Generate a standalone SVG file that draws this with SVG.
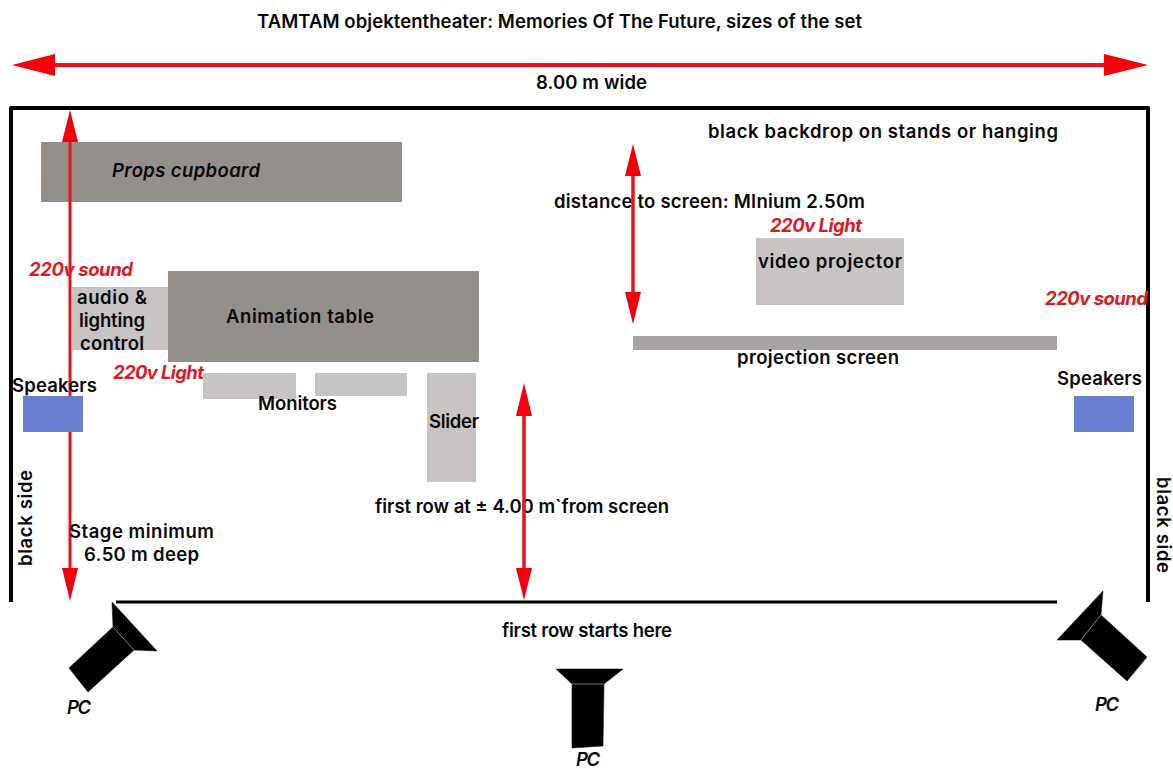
<svg xmlns="http://www.w3.org/2000/svg" width="1173" height="769" viewBox="0 0 1173 769">
<style>
text{font-family:"Inter","Liberation Sans",sans-serif;font-size:18.5px;font-weight:600;fill:#0a0a0a}
.m{text-anchor:middle}
.r{fill:#dc1a24;font-style:italic;font-weight:700}
.i{font-style:italic}
.dark{fill:#958f8b}
.light{fill:#c8c4c3}
.blue{fill:#6b7fd2}
.wall{fill:none;stroke:#000;stroke-width:4;stroke-linejoin:round}
.redline{fill:none;stroke:#e8121c}
.head{fill:#f5000a}
.cam{fill:#000;stroke:#000;stroke-width:.5}
.seam{stroke:#aaa;stroke-width:.7}
</style>
<rect width="1173" height="769" fill="#fff"/>
<g id="walls">
<path class="wall" d="M11 602V108H1148V602"/>
<path class="wall" style="stroke-width:3" d="M116 602H1057"/>
</g>
<g id="props-cupboard"><rect class="dark" x="41" y="142" width="361" height="60"/><text class="i" x="112" y="177" textLength="148">Props cupboard</text></g>
<g id="title-text"><text x="257" y="28" textLength="605">TAMTAM objektentheater: Memories Of The Future, sizes of the set</text></g>
<g id="width-label"><text x="536" y="89" textLength="111">8.00 m wide</text></g>
<g id="backdrop-label"><text x="708" y="138" textLength="350">black backdrop on stands or hanging</text></g>
<g id="distance-label"><text x="554" y="208" textLength="311">distance to screen: MInium 2.50m</text></g>
<g id="first-row-distance"><text x="375" y="513" textLength="294">first row at ± 4.00 m`from screen</text></g>
<g id="connectors">
<path class="redline" stroke-width="4" d="M50 65H1110"/>
<path class="head" d="M12 65L55 54V76ZM1148 65L1104 54V76Z"/>
<path class="redline" stroke-width="3" d="M70 140V570"/>
<path class="head" d="M70 110L78 142H62ZM70 601L78 568H62Z"/>
<path class="redline" stroke-width="3.500" d="M633 170V298"/>
<path class="head" d="M633 144L641 176H625ZM633 324L641 292H625Z"/>
<path class="redline" stroke-width="3.500" d="M524 410V575"/>
<path class="head" d="M524 383L532 416H516ZM524 600L532 568H516Z"/>
</g>
<g id="audio-control"><rect class="light" x="72" y="287" width="96" height="63"/><text class="m" x="112" y="304" textLength="70">audio &amp;</text><text class="m" x="112" y="327" textLength="66">lighting</text><text class="m" x="112" y="350" textLength="64">control</text></g>
<g id="animation-table"><rect class="dark" x="168" y="271" width="311" height="91"/><text x="226" y="323" textLength="148">Animation table</text></g>
<g id="power-sound-left"><text class="r" x="29" y="276" textLength="104">220v sound</text></g>
<g id="power-light-left"><text class="r" x="113" y="379" textLength="91">220v Light</text></g>
<g id="monitors"><rect class="light" x="203" y="373" width="93" height="26"/><rect class="light" x="315" y="373" width="92" height="23"/><text x="258" y="410" textLength="79">Monitors</text></g>
<g id="slider"><rect class="light" x="427" y="373" width="49" height="109"/><text x="429" y="428" textLength="50">Slider</text></g>
<g id="speakers-left"><rect class="blue" x="23" y="396" width="60" height="36"/><text x="12" y="392" textLength="85">Speakers</text></g>
<g id="speakers-right"><rect class="blue" x="1074" y="396" width="60" height="36"/><text x="1057" y="385" textLength="85">Speakers</text></g>
<g id="power-light-right"><text class="r" x="770" y="232" textLength="92">220v Light</text></g>
<g id="video-projector"><rect class="light" x="756" y="238" width="148" height="67"/><text x="758" y="268" textLength="144">video projector</text></g>
<g id="power-sound-right"><text class="r" x="1045" y="305" textLength="103">220v sound</text></g>
<g id="projection-screen"><rect x="633" y="336" width="424" height="14" fill="#a8a2a5"/><text x="737" y="364" textLength="162">projection screen</text></g>
<g id="stage-depth"><text x="69" y="538" textLength="145">Stage minimum</text><text x="84" y="561" textLength="115">6.50 m deep</text></g>
<g id="black-side-left"><text transform="translate(32 566) rotate(-90)" textLength="96">black side</text></g>
<g id="black-side-right"><text transform="translate(1157 477) rotate(90)" textLength="96">black side</text></g>
<g id="first-row"><text x="502" y="637" textLength="170">first row starts here</text></g>
<g id="pc-left"><path class="cam" d="M112 602L157 651L134 650L113 627Z"/><path class="cam" d="M113 627L134 650L88 692L69 668Z"/><path class="seam" d="M113 627L134 650"/><text class="i" x="67" y="714" textLength="24">PC</text></g>
<g id="pc-center"><path class="cam" d="M556 669H623L604 684H572Z"/><path class="cam" d="M572 684H604L603 746L572 748Z"/><path class="seam" d="M572 684H604"/><text class="i" x="576" y="766" textLength="24">PC</text></g>
<g id="pc-right"><path class="cam" d="M1103 591L1101 615L1081 640L1057 640Z"/><path class="cam" d="M1101 615L1147 657L1127 681L1081 640Z"/><path class="seam" d="M1101 615L1081 640"/><text class="i" x="1095" y="711" textLength="24">PC</text></g>
</svg>
